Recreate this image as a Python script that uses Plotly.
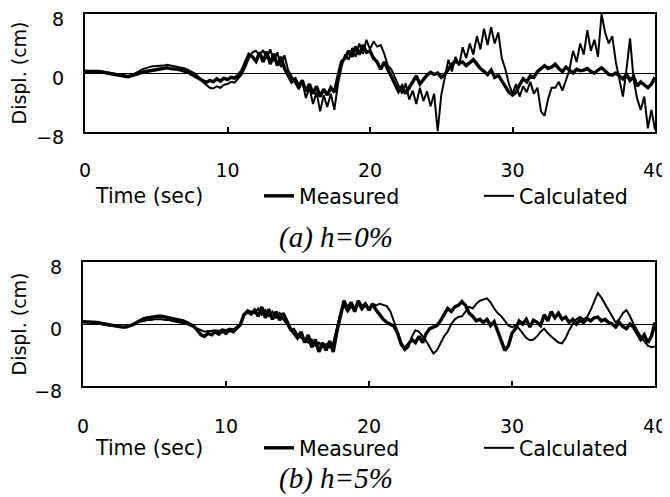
import plotly.graph_objects as go

# ---------------- data ----------------
time_s = [i * 0.25 for i in range(161)]  # 0 .. 40 s, 0.25 s sampling

# (a) h = 0%
meas_a = [
    0.2, 0.2, 0.3, 0.2,   0.2, 0.1, 0.0, -0.1,   -0.2, -0.3, -0.4, -0.4,   -0.5, -0.4, -0.3, -0.1,
    0.1, 0.2, 0.3, 0.4,   0.5, 0.6, 0.6, 0.7,    0.6, 0.6, 0.5, 0.4,      0.3, 0.1, -0.2, -0.5,
    -0.8, -1.0, -1.3, -1.0,  -1.2, -0.8, -1.1, -0.7,  -0.9, -0.6, -0.7, -0.3,  0.3, 1.4, 2.5, 2.2,
    1.6, 2.8, 1.5, 2.9,   1.2, 2.6, 1.0, 2.2,    0.6, -0.3, -1.2, -0.8,   -1.8, -1.0, -2.5, -1.5,
    -2.8, -1.8, -3.2, -2.2,  -3.0, -2.0, -2.6, -0.5,  1.5, 2.0, 3.0, 2.2,  3.6, 2.5, 3.8, 2.8,
    3.0, 2.0, 1.5, 0.5,   1.5, 0.5, -0.5, -1.5,  -2.5, -1.8, -2.8, -2.0,  -1.2, -0.4, -1.5, -0.8,
    -0.3, 0.1, -0.2, 0.0,  -0.6, -0.2, 0.5, 1.2,  1.6, 1.3, 1.5, 1.0,     1.4, 1.8, 1.2, 0.6,
    0.2, -0.2, 0.4, -0.6,  -0.3, -1.0, -1.8, -2.6,  -3.0, -2.6, -1.6, -0.8,  -1.2, -0.4, -0.6, 0.2,
    0.6, 1.0, 0.6, 0.8,   1.2, 0.6, 0.2, 0.8,    0.4, 0.0, 0.5, 0.3,      0.4, 0.6, 0.2, 0.0,
    0.4, 0.7, 0.3, -0.2,  -0.3, 0.0, -0.4, -0.8,  -0.2, -1.0, -0.5, -1.8,  -1.2, -1.6, -2.0, -1.5,
    -0.6,
]
calc_a = [
    0.3, 0.3, 0.2, 0.3,   0.2, 0.2, 0.1, 0.0,    -0.1, -0.2, -0.3, -0.4,  -0.4, -0.3, -0.1, 0.2,
    0.5, 0.7, 0.8, 0.9,   0.9, 1.0, 1.0, 1.1,    1.0, 0.9, 0.8, 0.7,      0.6, 0.4, 0.2, -0.1,
    -0.6, -1.2, -1.6, -2.0,  -2.1, -1.8, -2.0, -1.6,  -1.5, -1.2, -1.3, -0.8,  -0.2, 0.8, 2.0, 2.8,
    3.0, 2.4, 3.1, 2.0,   3.2, 1.6, 2.8, 0.8,    2.4, 0.4, -0.5, -1.5,    -2.2, -1.2, -3.4, -2.0,
    -4.2, -2.6, -5.2, -3.0,  -4.6, -2.8, -5.0, -1.5,  0.8, 2.5, 1.8, 3.4,  2.2, 4.0, 2.6, 4.5,
    3.2, 4.3, 3.6, 3.8,   2.6, 1.0, 0.5, -0.6,   -1.8, -2.8, -1.4, -3.6,  -2.4, -4.2, -2.0, -3.8,
    -2.5, -4.5, -2.8, -7.9,  -3.0, -0.5, 1.8, 0.2,  2.2, 1.0, 3.5, 2.0,    4.0, 2.5, 5.0, 3.2,
    6.0, 3.8, 6.2, 4.0,   5.5, 2.0, 0.5, -1.5,   -2.8, -1.5, -3.2, -1.8,  -2.6, -1.2, -2.8, -2.0,
    -5.2, -5.8, -3.5, -2.0,  -2.0, -1.2, -2.4, -1.0,  0.5, 3.0, 1.5, 4.0,  2.5, 5.8, 3.0, 4.5,
    2.2, 8.0, 5.5, 4.0,   5.0, 1.5, -1.0, -3.2,  0.5, 4.7, -0.9, -3.5,   -5.0, -3.2, -7.5, -5.0,
    -7.7,
]

# (b) h = 5%
meas_b = [
    0.3, 0.3, 0.2, 0.2,   0.2, 0.1, 0.0, -0.1,   -0.2, -0.3, -0.4, -0.4,  -0.4, -0.3, -0.1, 0.2,
    0.5, 0.7, 0.8, 0.9,   0.9, 1.0, 1.0, 0.9,    0.9, 0.8, 0.6, 0.5,      0.4, 0.2, 0.0, -0.3,
    -0.8, -1.4, -1.6, -1.2,  -1.4, -1.0, -1.3, -0.9,  -1.2, -0.8, -1.0, -0.6,  -0.1, 1.2, 1.6, 1.3,
    1.8, 1.0, 2.2, 0.8,   1.9, 0.6, 1.6, 0.5,    1.4, 0.4, -0.6, -1.2,    -1.8, -1.0, -2.4, -1.4,
    -3.0, -2.0, -3.6, -2.4,  -3.4, -2.2, -3.6, -1.0,  1.0, 3.0, 2.0, 2.8,  1.6, 3.0, 2.2, 2.6,
    1.8, 2.6, 1.8, 1.2,   0.6, 0.2, 0.0, -0.3,   -1.2, -2.6, -3.2, -2.6,  -2.0, -2.4, -1.6, -2.4,
    -1.2, -0.6, -0.4, -0.2,  0.4, 1.2, 2.0, 1.6,  2.2, 2.4, 2.9, 2.4,     1.4, 1.0, 0.4, 0.6,
    0.2, 0.6, -0.2, 0.3,  -1.0, -2.4, -3.4, -2.8,  -1.2, -0.6, 0.4, 0.0,   0.6, -0.4, 0.5, 0.2,
    -0.2, 1.2, 0.4, 1.6,  0.8, 1.4, 0.6, 0.9,    0.2, 0.6, 0.0, 0.5,      0.2, 0.7, 0.4, 0.8,
    0.9, 0.4, 0.6, 0.2,   0.0, -0.4, 0.2, -0.3,  -0.6, 0.0, -0.4, -1.2,   -2.0, -1.4, -2.4, -1.6,
    0.2,
]
calc_b = [
    0.2, 0.2, 0.2, 0.1,   0.1, 0.0, -0.1, -0.2,  -0.2, -0.3, -0.3, -0.4,  -0.3, -0.2, 0.0, 0.2,
    0.3, 0.4, 0.5, 0.5,   0.6, 0.6, 0.6, 0.5,    0.5, 0.4, 0.3, 0.2,      0.1, 0.0, -0.2, -0.4,
    -0.6, -0.8, -1.0, -0.9,  -0.9, -0.8, -0.9, -0.7,  -0.8, -0.6, -0.7, -0.4,  0.0, 1.0, 1.8, 1.6,
    1.4, 2.0, 1.2, 1.8,   1.0, 1.6, 0.8, 1.4,    0.6, 0.0, -0.8, -0.6,    -1.4, -1.8, -2.0, -2.4,
    -2.0, -2.8, -2.4, -3.0,  -2.6, -3.0, -2.4, -0.5,  1.4, 2.4, 1.6, 2.2,  2.0, 2.6, 1.8, 2.4,
    2.0, 2.6, 2.4, 2.6,   2.4, 2.3, 1.6, 0.4,    -1.0, -2.4, -3.4, -3.0,  -1.6, -0.8, -1.0, -1.6,
    -2.2, -3.0, -3.8, -3.4,  -2.4, -1.6, -1.0, 0.0,  0.6, 0.9, 1.0, 1.6,   2.2, 2.0, 2.6, 3.0,
    3.2, 3.3, 2.8, 2.0,   1.4, 1.0, 0.4, -0.2,   -0.4, -0.2, -0.6, -1.2,  -1.8, -2.1, -2.0, -1.6,
    -1.0, -0.6, -1.2, -1.6,  -2.0, -2.4, -2.5, -1.8,  -0.8, 0.0, 0.6, 0.9,  0.6, 0.9, 1.8, 2.8,
    4.0, 3.4, 2.6, 1.8,   1.0, 0.2, 0.6, 1.4,    1.8, 1.0, 0.0, -0.8,     -1.6, -2.2, -2.8, -3.0,
    -2.9,
]

x_ticks = [0, 10, 20, 30, 40]
y_ticks = [-8, 0, 8]
series_names = ["Measured", "Calculated"]
captions = ["<i>(a) h=0%</i>", "<i>(b) h=5%</i>"]
x_label = "Time (sec)"
y_label = "Displ. (cm)"

# ---------------- layout helpers ----------------
# the page body adds an 8 px margin, so the figure is drawn 8 px in from the
# top-left corner of the window; positions below are window pixels.
OFF = 8
W, H = 670 - OFF, 497 - OFF
def px(x):
    return (x - OFF) / W
def py(y):
    return 1 - (y - OFF) / H

SANS = "DejaVu Sans"
SERIF = "Liberation Serif"

fig = go.Figure()

panels = [
    ("x", "y", meas_a, calc_a, "legend", "legend2"),
    ("x2", "y2", meas_b, calc_b, "legend3", "legend4"),
]
for xa, ya, meas, calc, lg_m, lg_c in panels:
    fig.add_trace(go.Scatter(x=time_s, y=meas, xaxis=xa, yaxis=ya, mode="lines",
                             name=series_names[0], legend=lg_m,
                             line=dict(color="black", width=3.4)))
    fig.add_trace(go.Scatter(x=time_s, y=calc, xaxis=xa, yaxis=ya, mode="lines",
                             name=series_names[1], legend=lg_c,
                             line=dict(color="black", width=2.0)))

def xaxis(domain, anchor, standoff):
    return dict(domain=domain, anchor=anchor, range=[0, 40], tickvals=x_ticks,
                ticks="inside", ticklen=5, tickwidth=1.5, tickcolor="black",
                showline=True, linecolor="black", linewidth=2, mirror=True,
                showgrid=False, zeroline=False, ticklabelstandoff=standoff,
                automargin=False, ticklabeloverflow="allow",
                tickfont=dict(family=SANS, size=19, color="black"))

def yaxis(domain, anchor):
    return dict(domain=domain, anchor=anchor, range=[-8, 8], tickvals=y_ticks,
                ticks="", showline=True, linecolor="black", linewidth=2, mirror=True,
                showgrid=False, zeroline=True, zerolinecolor="black", zerolinewidth=1,
                ticklabelstandoff=15, ticklabelshift=5,
                automargin=False, ticklabeloverflow="allow",
                tickfont=dict(family=SANS, size=19, color="black"),
                title=dict(text=y_label, standoff=8,
                           font=dict(family=SANS, size=19, color="black")))

legend_common = dict(orientation="h", xanchor="left", yanchor="middle", itemwidth=30,
                     bgcolor="rgba(0,0,0,0)", borderwidth=0, itemclick=False,
                     font=dict(family=SANS, size=20.5, color="black"))

fig.update_layout(
    width=W, height=H, margin=dict(l=0, r=0, t=0, b=0, autoexpand=False),
    paper_bgcolor="white", plot_bgcolor="white", showlegend=True,
    xaxis=xaxis([px(85), px(655)], "y", 20),
    yaxis=yaxis([py(132), py(14)], "x"),
    xaxis2=xaxis([px(83), px(655)], "y2", 22),
    yaxis2=yaxis([py(386), py(262)], "x2"),
    legend=dict(x=px(259), y=py(196), **legend_common),
    legend2=dict(x=px(479), y=py(196), **legend_common),
    legend3=dict(x=px(259), y=py(448), **legend_common),
    legend4=dict(x=px(479), y=py(448), **legend_common),
)

for y_time, y_cap, cap in [(196, 237, captions[0]), (448, 478, captions[1])]:
    fig.add_annotation(xref="paper", yref="paper", x=px(93), y=py(y_time),
                       xanchor="left", yanchor="middle", showarrow=False,
                       text=x_label, font=dict(family=SANS, size=20.5, color="black"))
    fig.add_annotation(xref="paper", yref="paper", x=px(336), y=py(y_cap),
                       xanchor="center", yanchor="middle", showarrow=False,
                       text=cap, font=dict(family=SERIF, size=29, color="black"))

fig.write_html("out.html")
